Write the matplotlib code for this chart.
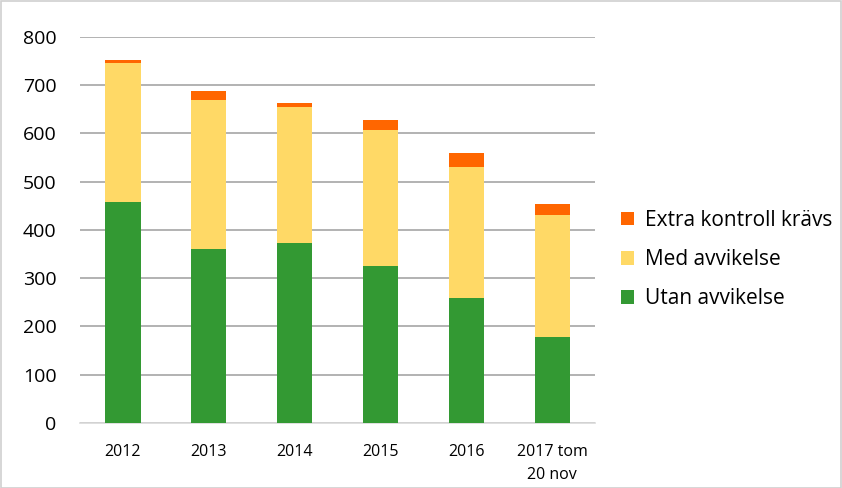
import matplotlib
matplotlib.use("Agg")
import matplotlib.pyplot as plt
import numpy as np
from matplotlib.patches import Rectangle

categories = ["2012", "2013", "2014", "2015", "2016", "2017 tom\n20 nov"]
utan = [458, 360, 372, 325, 258, 178]
med = [288, 308, 283, 282, 273, 252]
extra = [5, 19, 7, 21, 29, 23]

plt.rcParams['font.family'] = ['Open Sans', 'DejaVu Sans']

fig = plt.figure(figsize=(8.42, 4.88), dpi=100)
ax = fig.add_axes([0.095, 0.133, 0.612, 0.792])

x = np.arange(len(categories))
w = 0.41
b1 = ax.bar(x, utan, w, color="#339933", label="Utan avvikelse", zorder=3)
b2 = ax.bar(x, med, w, bottom=utan, color="#FFD966", label="Med avvikelse", zorder=3)
bottom3 = np.array(utan) + np.array(med)
b3 = ax.bar(x, extra, w, bottom=bottom3, color="#FF6600", label="Extra kontroll krävs", zorder=3)

ax.set_ylim(0, 800)
ax.set_xlim(-0.5, len(categories) - 0.5)
ax.set_yticks(range(0, 801, 100))
ax.yaxis.grid(True, color="#a6a6a6", linewidth=1.2, zorder=0)
ax.set_axisbelow(True)
for s in ["top", "right", "left"]:
    ax.spines[s].set_visible(False)
ax.spines["bottom"].set_color("#d9d9d9")
ax.spines["bottom"].set_linewidth(1.2)
ax.tick_params(axis="both", length=0)
ax.tick_params(axis="y", labelsize=14, pad=17, colors="#000000")
ax.tick_params(axis="x", labelsize=11.5, pad=15)
ax.set_xticks(x)
ax.set_xticklabels(categories, linespacing=1.6)
for lab in ax.get_xticklabels():
    lab.set_verticalalignment("top")

handles = [b3, b2, b1]
labels = ["Extra kontroll krävs", "Med avvikelse", "Utan avvikelse"]
fig.legend(handles, labels, loc="center left", bbox_to_anchor=(0.715, 0.468),
           frameon=False, fontsize=15, handlelength=0.65, handleheight=0.65,
           handletextpad=0.5, labelspacing=0.88)

fig.add_artist(Rectangle((0.001, 0.001), 0.998, 0.997, transform=fig.transFigure,
                         fill=False, edgecolor="#d0d0d0", linewidth=1.2))

fig.savefig("out.png", dpi=100)
